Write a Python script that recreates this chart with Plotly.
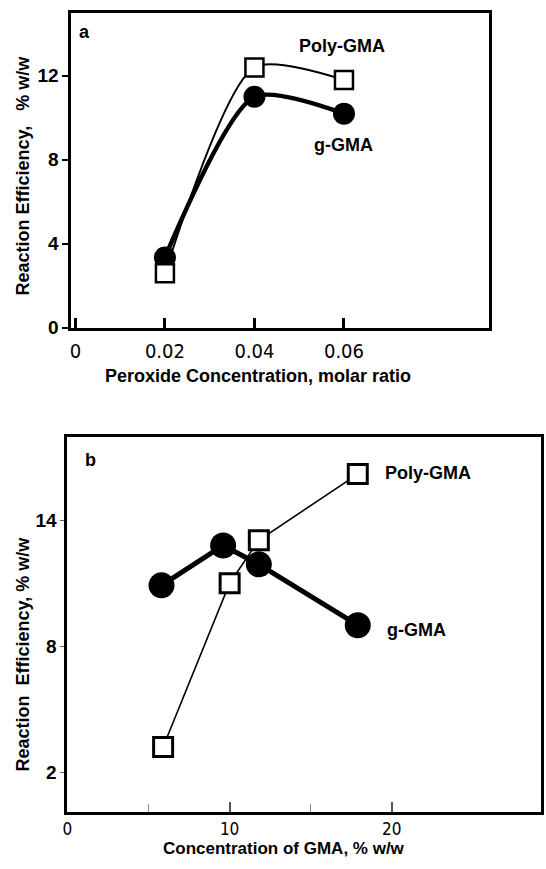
import plotly.graph_objects as go

# Panel a data
a_x = [0.02, 0.04, 0.06]
a_poly = [2.6, 12.4, 11.8]
a_g = [3.35, 11.0, 10.2]
a_xticks = [0, 0.02, 0.04, 0.06]
a_xtick_text = ["0", "0.02", "0.04", "0.06"]
a_yticks = [0, 4, 8, 12]

# Panel b data
b_poly_x = [5.9, 10.0, 11.8, 17.9]
b_poly = [3.2, 11.0, 13.05, 16.2]
b_g_x = [5.8, 9.6, 11.8, 17.9]
b_g = [10.9, 12.8, 11.9, 9.0]
b_xticks = [0, 10, 20]
b_yticks = [2, 8, 14]

BOLD = "Liberation Sans"
NARROW = "Liberation Sans Narrow, DejaVu Sans Condensed, Liberation Sans"

fig = go.Figure()

# panel a
fig.add_trace(go.Scatter(x=a_x, y=a_g, mode="lines+markers", line=dict(color="black", width=4.5, shape="spline", smoothing=0.7),
                         marker=dict(symbol="circle", size=22, color="black"), xaxis="x", yaxis="y", showlegend=False))
fig.add_trace(go.Scatter(x=a_x, y=a_poly, mode="lines+markers", line=dict(color="black", width=2, shape="spline", smoothing=0.7),
                         marker=dict(symbol="square", size=18, color="white", line=dict(color="black", width=2.5)),
                         xaxis="x", yaxis="y", showlegend=False))
# panel b
fig.add_trace(go.Scatter(x=b_g_x, y=b_g, mode="lines+markers", line=dict(color="black", width=5),
                         marker=dict(symbol="circle", size=26, color="black"), xaxis="x2", yaxis="y2", showlegend=False))
fig.add_trace(go.Scatter(x=b_poly_x, y=b_poly, mode="lines+markers", line=dict(color="black", width=1.6),
                         marker=dict(symbol="square", size=19, color="white", line=dict(color="black", width=3)),
                         xaxis="x2", yaxis="y2", showlegend=False))

W, H = 546, 869

fig.update_layout(
    width=W, height=H, margin=dict(l=0, r=0, t=0, b=0),
    paper_bgcolor="white", plot_bgcolor="white",
    xaxis=dict(domain=[67 / W, 488 / W], range=[-0.0009, 0.0923], tickvals=a_xticks, ticktext=a_xtick_text,
               ticks="inside", ticklen=10, tickwidth=2.5, tickcolor="black",
               showline=True, linewidth=3, linecolor="black", mirror=True, showgrid=False, zeroline=False,
               tickfont=dict(family=NARROW, size=20, color="black"), ticklabelstandoff=3, anchor="y"),
    yaxis=dict(domain=[1 - 332 / H, 1 - 13 / H], range=[0, 15.0], tickvals=a_yticks,
               ticks="outside", ticklen=6, tickwidth=2, tickcolor="black",
               showline=True, linewidth=3, linecolor="black", mirror=True, showgrid=False, zeroline=False,
               tickfont=dict(family=BOLD, size=19, color="black", weight="bold"), anchor="x"),
    xaxis2=dict(domain=[63 / W, 541 / W], range=[0, 29.2], tickvals=b_xticks,
                ticks="inside", ticklen=10, tickwidth=1.5, tickcolor="#555",
                minor=dict(tickvals=[5, 15], ticks="inside", ticklen=8, tickwidth=1, tickcolor="#888"),
                showline=True, linewidth=3, linecolor="black", mirror=True, showgrid=False, zeroline=False,
                tickfont=dict(family=NARROW, size=17, color="black"), ticklabelstandoff=0, anchor="y2"),
    yaxis2=dict(domain=[1 - 822 / H, 1 - 443 / H], range=[0.12, 17.95], tickvals=b_yticks,
                ticks="outside", ticklen=4, tickwidth=1, tickcolor="#666",
                showline=True, linewidth=3, linecolor="black", mirror=True, showgrid=False, zeroline=False,
                tickfont=dict(family=BOLD, size=19, color="black", weight="bold"), anchor="x2"),
    font=dict(family=BOLD, color="black"),
)

ann = []
tf = dict(family=BOLD, size=18, color="black", weight="bold")
mid = dict(xanchor="center", yanchor="middle", showarrow=False)
# axis titles
ann.append(dict(text="Peroxide Concentration, molar ratio", xref="paper", yref="paper", x=255 / W, y=1 - 381 / H,
                font=dict(family=BOLD, size=18, color="black", weight="bold"), **mid))
ann.append(dict(text="Reaction Efficiency,\u00a0\u00a0\u00a0% w/w", xref="paper", yref="paper", x=18 / W, y=1 - 178 / H,
                textangle=-90, font=dict(family=BOLD, size=18, color="black", weight="bold"), **mid))
ann.append(dict(text="Concentration of GMA, % w/w", xref="paper", yref="paper", x=282 / W, y=1 - 859 / H,
                font=dict(family=BOLD, size=17, color="black", weight="bold"), **mid))
ann.append(dict(text="Reaction\u00a0\u00a0Efficiency, % w/w", xref="paper", yref="paper", x=18 / W, y=1 - 662 / H,
                textangle=-90, font=dict(family=BOLD, size=18, color="black", weight="bold"), **mid))
# panel letters
ann.append(dict(text="a", xref="paper", yref="paper", x=80 / W, y=1 - 32 / H, font=tf, **mid))
ann.append(dict(text="b", xref="paper", yref="paper", x=86 / W, y=1 - 466 / H, font=tf, **mid))
# series labels
ann.append(dict(text="Poly-GMA", xref="x", yref="y", x=0.0596, y=13.4, font=tf, **mid))
ann.append(dict(text="g-GMA", xref="x", yref="y", x=0.0600, y=8.7, font=tf, **mid))
ann.append(dict(text="Poly-GMA", xref="x2", yref="y2", x=22.2, y=16.26, font=tf, **mid))
ann.append(dict(text="g-GMA", xref="x2", yref="y2", x=21.5, y=8.75, font=tf, **mid))
fig.update_layout(annotations=ann)

fig.write_html("out.html")
